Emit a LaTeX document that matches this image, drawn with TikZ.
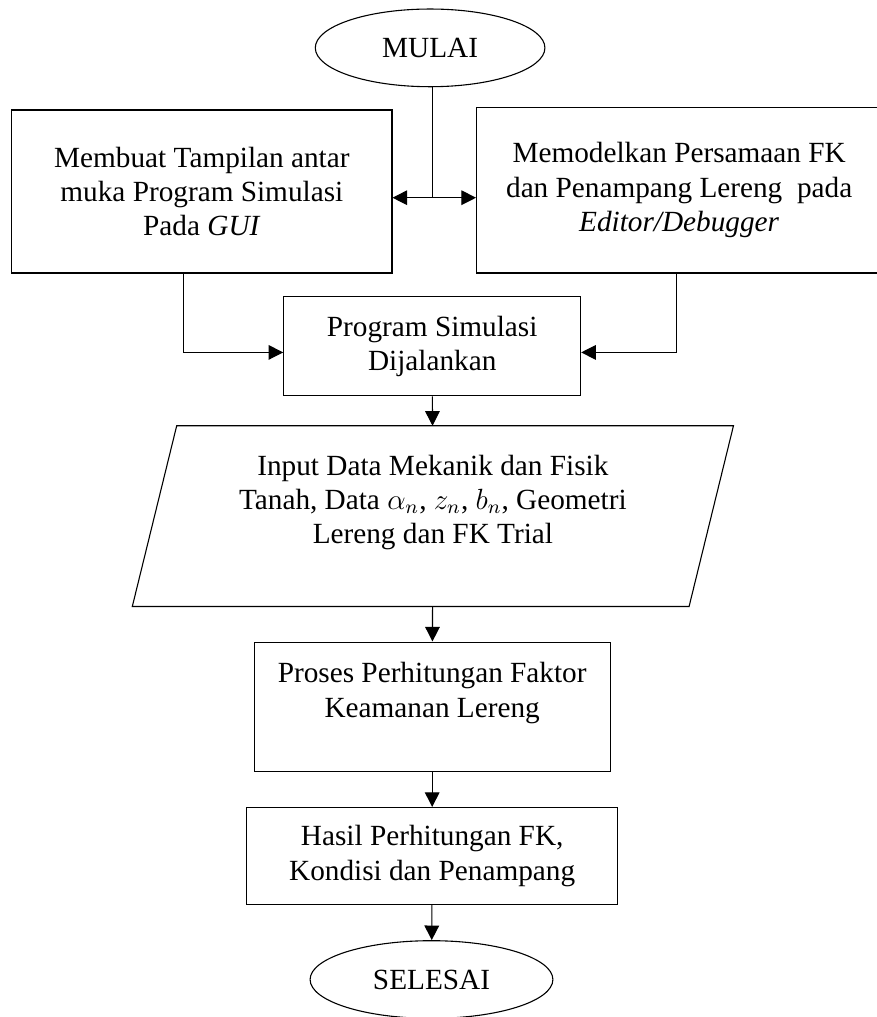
\documentclass[tikz,border=0pt]{standalone}
\usepackage{fontspec}
\setmainfont{Liberation Serif}
\usetikzlibrary{arrows.meta,positioning,calc,shapes.geometric}

\begin{document}
\begin{tikzpicture}[
  font=\fontsize{12}{14}\selectfont, >={Triangle[length=6pt, width=6pt]},
  line width=0.45pt,
  blk/.style={draw, align=center, inner sep=2pt},
  io/.style={align=center, inner sep=2pt},
  term/.style={draw, ellipse, inner sep=1pt, minimum height=1.12cm}]
\useasboundingbox (0,0) rectangle (12.64,-14.66);
\node[term, minimum width=3.31cm] (start) at (6.20,-0.69) {MULAI};
\node[blk, minimum width=5.48cm, minimum height=2.35cm] (gui) at (2.91,-2.76) {Membuat Tampilan antar\\muka Program Simulasi\\Pada \textit{GUI}};
\node[blk, minimum width=5.84cm, minimum height=2.39cm] (edit) at (9.79,-2.74) {Memodelkan Persamaan FK\\dan Penampang Lereng~ pada\\\textit{Editor/Debugger}};
\node[blk, minimum width=4.28cm, minimum height=1.43cm] (run) at (6.23,-4.99) {Program Simulasi\\Dijalankan};
\node[io, minimum width=8.01cm, minimum height=2.59cm] (input) at (6.24,-7.44) {Input Data Mekanik dan Fisik\\Tanah, Data $\alpha_n$, $z_n$, $b_n$, Geometri\\Lereng dan FK Trial\\\mbox{}};
\node[blk, minimum width=5.13cm, minimum height=1.87cm] (proc) at (6.23,-10.19) {Proses Perhitungan Faktor\\Keamanan Lereng\\\mbox{}};
\node[blk, minimum width=5.35cm, minimum height=1.40cm] (res) at (6.23,-12.34) {Hasil Perhitungan FK,\\Kondisi dan Penampang};
\node[term, minimum width=3.50cm] (stop) at (6.22,-14.12) {SELESAI};
% parallelogram round the input node
\draw ([xshift=0.32cm]input.north west) -- ([xshift=0.32cm]input.north east) -- ([xshift=-0.32cm]input.south east) -- ([xshift=-0.32cm]input.south west) -- cycle;
\coordinate (J) at (6.24,-2.85);
\draw (start.south -| J) -- (J);
\draw[<->] (gui.east |- J) -- (edit.west |- J);
\draw[->] ([xshift=-0.27cm]gui.south) |- ([yshift=-0.09cm]run.west);
\draw[->] ([xshift=-0.04cm]edit.south) |- ([yshift=-0.09cm]run.east);
\draw[->] (run) -- (input);
\draw[->] (input) -- (proc);
\draw[->] (proc) -- (res);
\draw[->] (res) -- (stop);
\end{tikzpicture}
\end{document}
